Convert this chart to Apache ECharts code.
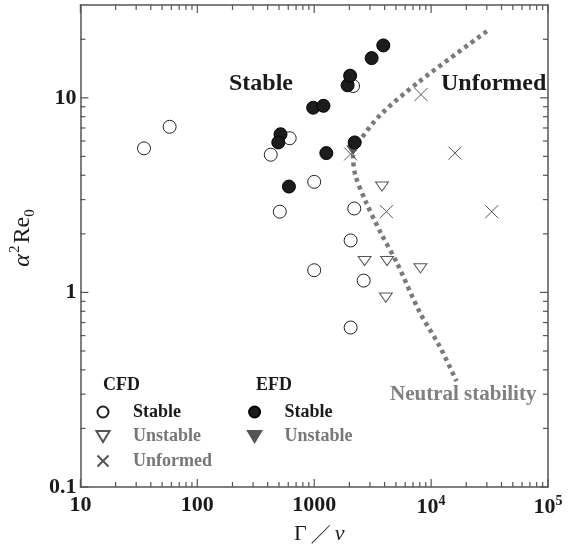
<!DOCTYPE html>
<html>
<head>
<meta charset="utf-8">
<title>Stability map</title>
<script src="https://cdn.jsdelivr.net/npm/echarts@6/dist/echarts.min.js"></script>
<style>
  html, body { margin: 0; padding: 0; background: #fff; }
  #chart { width: 571px; height: 554px; }
</style>
</head>
<body>
<div id="chart"></div>
<script>
// axis ranges and ticks
var xMin = 10, xMax = 100000, yMin = 0.1, yMax = 30;
var xDecades = [10, 100, 1000, 10000, 100000];
var yDecades = [0.1, 1, 10];
var minorSteps = [2, 3, 4, 5, 6, 7, 8, 9];
var xTickLabels = ['10', '100', '1000', '{b|10}{s|4}', '{b|10}{s|5}'];
var yTickLabels = ['0.1', '1', '10'];

// data: [Gamma/nu, alpha^2 Re0]
var cfdStable = [[35, 5.5], [58, 7.1], [425, 5.1], [508, 2.6], [617, 6.2], [1000, 3.7],
                 [1000, 1.3], [2050, 1.85], [2200, 2.7], [2150, 11.5], [2650, 1.15], [2050, 0.66]];
var cfdUnstable = [[3800, 3.5], [2700, 1.45], [4200, 1.45], [8100, 1.33], [4100, 0.94]];
var cfdUnformed = [[2050, 5.15], [4150, 2.6], [8200, 10.4], [16000, 5.2], [33000, 2.6]];
var efdStable = [[515, 6.5], [493, 5.9], [608, 3.5], [980, 8.9], [1200, 9.1], [1270, 5.2],
                 [1930, 11.6], [2030, 13], [2220, 5.9], [3100, 16], [3900, 18.6]];
var efdUnstable = [[2150, 5.4]];
var neutralLine = [[30000, 22], [7750, 12], [3700, 8.2], [2450, 6.0], [2150, 5.0], [2250, 4.0],
                   [2780, 2.9], [3700, 2.03], [5100, 1.42], [8000, 0.79], [11800, 0.53], [16500, 0.35]];

var serif = "'Liberation Serif', 'Times New Roman', serif";
var downTri = 'path://M0,0L12,0L6,10Z';
var cross = 'path://M0,0L10,10M10,0L0,10';

// tick marks (major + minor) for the boxed frame
var xTicks = [], yTicks = [];
xDecades.forEach(function (d) {
  xTicks.push([d, yMin, 1]);
  minorSteps.forEach(function (s) { if (d * s < xMax) xTicks.push([d * s, yMin, 0]); });
});
yDecades.forEach(function (d) {
  yTicks.push([xMin, d, 1]);
  minorSteps.forEach(function (s) { if (d * s < yMax) yTicks.push([xMin, d * s, 0]); });
});

function labelFor(list, labels) {
  return function (v) {
    for (var i = 0; i < list.length; i++) {
      if (Math.abs(Math.log10(v) - Math.log10(list[i])) < 1e-6) return labels[i];
    }
    return '';
  };
}

function line(x1, y1, x2, y2) {
  return { type: 'line', shape: { x1: x1, y1: y1, x2: x2, y2: y2 },
           style: { stroke: '#555', lineWidth: 1.2 } };
}

var chart = echarts.init(document.getElementById('chart'));
chart.setOption({
  animation: false,
  backgroundColor: '#fff',
  grid: { left: 69, right: 23, top: 5, bottom: 67 },
  title: [
    { text: 'CFD', left: 103, top: 376, padding: 0,
      textStyle: { fontFamily: serif, fontWeight: 'bold', fontSize: 18, color: '#1a1a1a' } },
    { text: 'EFD', left: 256, top: 376, padding: 0,
      textStyle: { fontFamily: serif, fontWeight: 'bold', fontSize: 18, color: '#1a1a1a' } }
  ],
  legend: [
    {
      orient: 'vertical', left: 95, top: 402, padding: 0, itemGap: 4.5,
      itemWidth: 50, itemHeight: 11,
      data: [
        { name: 'CFD Stable', textStyle: { color: '#1a1a1a' } },
        { name: 'CFD Unstable', textStyle: { color: '#777' } },
        { name: 'CFD Unformed', textStyle: { color: '#777' } }
      ],
      formatter: function (n) { return n.replace(/^CFD /, ''); },
      textStyle: { fontFamily: serif, fontWeight: 'bold', fontSize: 18, lineHeight: 20 }
    },
    {
      orient: 'vertical', left: 247, top: 402, padding: 0, itemGap: 4.5,
      itemWidth: 50, itemHeight: 11,
      data: [
        { name: 'EFD Stable', textStyle: { color: '#1a1a1a' } },
        { name: 'EFD Unstable', textStyle: { color: '#777' } }
      ],
      formatter: function (n) { return n.replace(/^EFD /, ''); },
      textStyle: { fontFamily: serif, fontWeight: 'bold', fontSize: 18, lineHeight: 20 }
    }
  ],
  graphic: [
    { type: 'text', left: 229, top: 72,
      style: { text: 'Stable', font: 'bold 24px ' + serif, fill: '#1a1a1a' } },
    { type: 'text', left: 441, top: 72,
      style: { text: 'Unformed', font: 'bold 24px ' + serif, fill: '#1a1a1a' } },
    { type: 'text', left: 390, top: 384,
      style: { text: 'Neutral stability', font: 'bold 21px ' + serif, fill: '#808080' } }
  ],
  xAxis: [
    {
      type: 'log', logBase: 10, min: xMin, max: xMax, position: 'bottom',
      axisLine: { lineStyle: { color: '#555', width: 1.5 } },
      axisTick: { show: false }, splitLine: { show: false },
      axisLabel: {
        margin: 7, fontFamily: serif, fontWeight: 'bold', fontSize: 22, color: '#1a1a1a',
        formatter: labelFor(xDecades, xTickLabels),
        rich: {
          b: { fontFamily: serif, fontWeight: 'bold', fontSize: 22, lineHeight: 26, color: '#1a1a1a' },
          s: { fontFamily: serif, fontWeight: 'bold', fontSize: 14, lineHeight: 14, verticalAlign: 'top', color: '#1a1a1a' }
        }
      },
      name: '{g|Γ}{sl|／}{n|ν}', nameLocation: 'middle', nameGap: 34,
      nameTextStyle: {
        padding: [0, 0, 0, 10],
        rich: {
          g: { fontFamily: serif, fontSize: 22, color: '#1a1a1a', lineHeight: 26 },
          sl: { fontFamily: "'Noto Sans CJK JP', sans-serif", fontSize: 20, color: '#1a1a1a', padding: [0, 4, 0, 4] },
          n: { fontFamily: serif, fontStyle: 'italic', fontSize: 22, color: '#1a1a1a' }
        }
      }
    },
    {
      type: 'log', logBase: 10, min: xMin, max: xMax, position: 'top',
      axisLine: { lineStyle: { color: '#555', width: 1.5 } },
      axisTick: { show: false }, axisLabel: { show: false }, splitLine: { show: false }
    }
  ],
  yAxis: [
    {
      type: 'log', logBase: 10, min: yMin, max: yMax, position: 'left',
      axisLine: { lineStyle: { color: '#555', width: 1.5 } },
      axisTick: { show: false }, splitLine: { show: false },
      axisLabel: {
        margin: 4, fontFamily: serif, fontWeight: 'bold', fontSize: 22, color: '#1a1a1a',
        formatter: labelFor(yDecades, yTickLabels), showMaxLabel: false
      },
      name: '{a|α}{s|2}{b|Re}{u|0}', nameLocation: 'middle', nameGap: 26, nameRotate: 90,
      nameTextStyle: {
        padding: [0, 0, 0, 16],
        rich: {
          a: { fontFamily: serif, fontStyle: 'italic', fontSize: 24, lineHeight: 30, color: '#1a1a1a' },
          s: { fontFamily: serif, fontSize: 15, lineHeight: 14, verticalAlign: 'top', color: '#1a1a1a', padding: [0, 2, 0, 1] },
          b: { fontFamily: serif, fontSize: 24, lineHeight: 30, color: '#1a1a1a' },
          u: { fontFamily: serif, fontSize: 15, lineHeight: 14, verticalAlign: 'bottom', color: '#1a1a1a' }
        }
      }
    },
    {
      type: 'log', logBase: 10, min: yMin, max: yMax, position: 'right',
      axisLine: { lineStyle: { color: '#555', width: 1.5 } },
      axisTick: { show: false }, axisLabel: { show: false }, splitLine: { show: false }
    }
  ],
  series: [
    {
      type: 'custom', silent: true, data: xTicks, encode: { x: 0, y: 1 },
      renderItem: function (params, api) {
        var len = api.value(2) ? 8 : 5;
        var b = api.coord([api.value(0), yMin]);
        var t = api.coord([api.value(0), yMax]);
        return { type: 'group', children: [line(b[0], b[1], b[0], b[1] - len), line(t[0], t[1], t[0], t[1] + len)] };
      }
    },
    {
      type: 'custom', silent: true, data: yTicks, encode: { x: 0, y: 1 },
      renderItem: function (params, api) {
        var len = api.value(2) ? 8 : 5;
        var l = api.coord([xMin, api.value(1)]);
        var r = api.coord([xMax, api.value(1)]);
        return { type: 'group', children: [line(l[0], l[1], l[0] + len, l[1]), line(r[0], r[1], r[0] - len, r[1])] };
      }
    },
    {
      name: 'Neutral stability', type: 'line', data: neutralLine, showSymbol: false,
      smooth: 0.3, z: 1, silent: true,
      lineStyle: { color: '#7a7a7a', width: 4.5, type: [4, 4], cap: 'butt' }
    },
    {
      name: 'CFD Stable', type: 'scatter', data: cfdStable, symbol: 'circle', symbolSize: 13,
      itemStyle: { color: '#fff', borderColor: '#222', borderWidth: 1, opacity: 1 }
    },
    {
      name: 'CFD Unstable', type: 'scatter', data: cfdUnstable, symbol: downTri, symbolSize: [13, 11],
      symbolKeepAspect: true,
      itemStyle: { color: '#fff', borderColor: '#555', borderWidth: 1, opacity: 1 }
    },
    {
      name: 'CFD Unformed', type: 'scatter', data: cfdUnformed, symbol: cross, symbolSize: 13,
      symbolKeepAspect: true,
      itemStyle: { color: 'none', borderColor: '#555', borderWidth: 1, opacity: 1 }
    },
    {
      name: 'EFD Unstable', type: 'scatter', data: efdUnstable, symbol: downTri, symbolSize: [12, 10],
      symbolKeepAspect: true,
      itemStyle: { color: '#555', borderColor: '#555', borderWidth: 1, opacity: 1 }
    },
    {
      name: 'EFD Stable', type: 'scatter', data: efdStable, symbol: 'circle', symbolSize: 13,
      itemStyle: { color: '#1c1c1c', borderColor: '#000', borderWidth: 1, opacity: 1 }
    }
  ]
});
</script>
</body>
</html>
